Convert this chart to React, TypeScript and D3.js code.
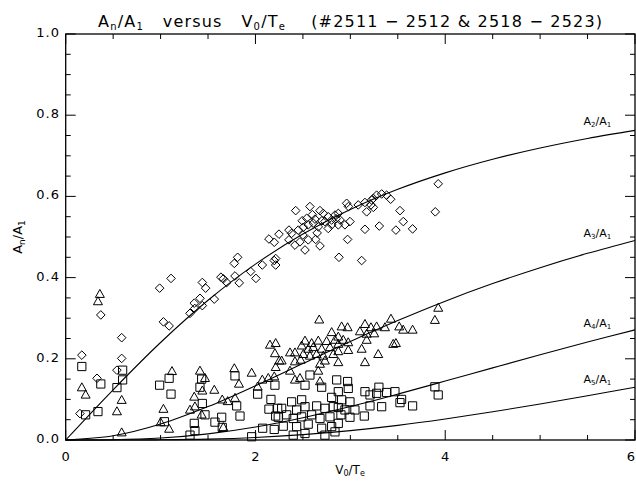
import React from "react";
import * as d3 from "d3";

// ---- Theory curves (sampled values, A_n/A_1) ----
const curveX = [0, 0.5, 1, 1.5, 2, 2.5, 3, 3.5, 4, 4.5, 5, 5.5, 6];
const curveA2 = [0, 0.1237, 0.2402, 0.3441, 0.4331, 0.5072, 0.5679, 0.6175, 0.658, 0.6915, 0.7193, 0.7428, 0.7627];
const curveA3 = [0, 0.0103, 0.0392, 0.0823, 0.1337, 0.1885, 0.2428, 0.2943, 0.342, 0.3853, 0.4245, 0.4598, 0.4915];
const curveA4 = [0, 0.0006, 0.0048, 0.015, 0.0319, 0.0548, 0.0824, 0.113, 0.1451, 0.1777, 0.2099, 0.2412, 0.2712];
const curveA5 = [0, 0.00003, 0.0005, 0.0022, 0.0062, 0.0132, 0.0232, 0.0361, 0.0518, 0.0694, 0.0887, 0.109, 0.1299];
const curveLabels = ["2", "3", "4", "5"];
const curveLabelY = [0.776, 0.5, 0.278, 0.14];
const curveLabelX = 5.75;

// ---- Measured points ----
// A2/A1 (diamonds)
const a2X = [0.17, 0.15, 0.33, 0.37, 0.59, 0.59, 0.54, 0.99, 1.11, 1.03, 1.09, 1.31, 1.36,
  1.355, 1.415, 1.44, 1.566, 1.44, 1.475, 1.636, 1.661, 1.697, 1.784, 1.829, 1.777, 1.812, 1.949, 2.005, 2.072, 2.198, 2.213, 2.213, 2.142, 2.198, 2.248, 2.353, 2.353,
  2.424, 2.574, 2.68, 2.715, 2.54, 2.627, 2.493, 2.381, 2.451, 2.504, 2.556, 2.609, 2.662, 2.732, 2.767, 2.803, 2.838, 2.873, 2.891, 2.767, 2.803, 2.873, 2.943, 2.996, 2.961, 2.98, 3.083, 3.154, 3.172, 3.224, 3.217, 3.154, 2.971, 2.88, 3.119, 2.416, 2.469, 2.522, 2.556, 2.634, 2.68,
  2.6, 2.7, 2.85, 2.5, 2.65,
  3.242, 3.277, 3.33, 3.382, 3.425, 3.242, 3.926, 3.523, 3.895, 3.558, 3.305, 3.48, 3.656];
const a2Y = [0.209, 0.065, 0.152, 0.308, 0.252, 0.201, 0.172, 0.374, 0.398, 0.291, 0.281, 0.312, 0.324,
  0.337, 0.349, 0.331, 0.347, 0.388, 0.374, 0.401, 0.397, 0.388, 0.404, 0.387, 0.435, 0.45, 0.415, 0.398, 0.431, 0.442, 0.431, 0.447, 0.495, 0.487, 0.507, 0.517, 0.493,
  0.565, 0.575, 0.565, 0.558, 0.546, 0.544, 0.54, 0.509, 0.517, 0.524, 0.53, 0.534, 0.525, 0.538, 0.55, 0.542, 0.554, 0.558, 0.542, 0.521, 0.53, 0.53, 0.53, 0.538, 0.583, 0.575, 0.579, 0.585, 0.562, 0.591, 0.579, 0.519, 0.494, 0.45, 0.442, 0.48, 0.488, 0.468, 0.493, 0.494, 0.478,
  0.555, 0.54, 0.545, 0.505, 0.51,
  0.595, 0.603, 0.606, 0.603, 0.593, 0.573, 0.631, 0.565, 0.562, 0.538, 0.527, 0.517, 0.52];

// A3/A1 (triangles)
const a3X = [0.36, 0.34, 0.17, 0.21, 0.54, 0.59, 0.59, 1.03, 1.09, 1.12, 1.0,
  1.415, 1.468, 1.44, 1.355, 1.362, 1.31, 1.566, 1.433, 1.777, 1.96, 1.826, 1.65, 1.707, 1.784, 1.661, 2.023, 2.072, 2.135, 2.198, 2.153, 2.213, 2.205, 2.251, 2.213,
  2.672, 2.803, 2.522, 2.592, 2.662, 2.75, 2.838, 2.487, 2.556, 2.609, 2.698, 2.785, 2.364, 2.416, 2.504, 2.574, 2.645, 2.715, 2.82, 2.276, 2.416, 2.476, 2.68, 2.732, 2.364, 2.662, 2.416, 2.469, 2.68,
  2.908, 2.971, 3.154, 3.217, 3.277, 3.365, 3.428, 3.101, 3.172, 3.252, 2.873, 2.925, 2.978, 2.873, 3.172, 3.452, 2.873, 2.978, 3.119, 3.294, 2.873, 3.154,
  3.515, 3.557, 3.656, 3.48, 3.926, 3.891];
const a3Y = [0.361, 0.343, 0.131, 0.113, 0.072, 0.1, 0.02, 0.078, 0.029, 0.171, 0.045,
  0.172, 0.154, 0.123, 0.108, 0.084, 0.076, 0.125, 0.064, 0.178, 0.167, 0.14, 0.101, 0.097, 0.105, 0.033, 0.133, 0.15, 0.154, 0.158, 0.236, 0.24, 0.215, 0.197, 0.181,
  0.298, 0.267, 0.246, 0.24, 0.246, 0.245, 0.248, 0.234, 0.226, 0.23, 0.226, 0.23, 0.217, 0.217, 0.213, 0.209, 0.213, 0.209, 0.213, 0.197, 0.195, 0.199, 0.189, 0.197, 0.172, 0.172, 0.15, 0.154, 0.146,
  0.281, 0.279, 0.287, 0.279, 0.281, 0.279, 0.3, 0.269, 0.263, 0.264, 0.256, 0.248, 0.242, 0.238, 0.248, 0.238, 0.22, 0.223, 0.226, 0.213, 0.193, 0.193,
  0.281, 0.273, 0.273, 0.24, 0.327, 0.297];

// A4/A1 (squares)
const a4X = [0.17, 0.21, 0.37, 0.34, 0.54, 0.6, 0.6, 0.99, 1.09, 1.11, 1.04,
  1.433, 1.415, 1.44, 1.468, 1.355, 1.362, 1.31, 1.784, 1.802, 1.837, 1.644, 1.573, 1.65, 1.96, 2.023, 2.205, 2.163, 2.142, 2.234, 2.213, 2.24, 2.076, 2.198,
  2.574, 2.522, 2.698, 2.856, 2.381, 2.487, 2.803, 2.276, 2.434, 2.522, 2.645, 2.732, 2.82, 2.329, 2.398, 2.487, 2.592, 2.68, 2.785, 2.293, 2.434, 2.556, 2.698, 2.803, 2.398, 2.522, 2.732, 2.838,
  2.971, 2.978, 2.873, 3.154, 3.301, 3.382, 3.277, 3.207, 2.908, 2.996, 3.207, 3.33, 2.873, 2.943, 3.048, 2.901, 2.996, 3.147, 2.873,
  3.47, 3.54, 3.523, 3.656, 3.891, 3.926];
const a4Y = [0.181, 0.062, 0.138, 0.07, 0.129, 0.148, 0.172, 0.135, 0.152, 0.113, 0.045,
  0.15, 0.13, 0.09, 0.062, 0.041, 0.023, 0.012, 0.158, 0.084, 0.059, 0.056, 0.044, 0.031, 0.008, 0.113, 0.135, 0.1, 0.076, 0.078, 0.059, 0.056, 0.029, 0.026,
  0.16, 0.135, 0.13, 0.148, 0.094, 0.099, 0.105, 0.078, 0.074, 0.082, 0.084, 0.078, 0.082, 0.062, 0.053, 0.057, 0.062, 0.053, 0.057, 0.034, 0.033, 0.039, 0.029, 0.033, 0.012, 0.016, 0.012, 0.02,
  0.144, 0.127, 0.119, 0.119, 0.13, 0.117, 0.115, 0.111, 0.099, 0.094, 0.084, 0.082, 0.08, 0.074, 0.074, 0.062, 0.056, 0.059, 0.041,
  0.119, 0.1, 0.092, 0.084, 0.131, 0.111];

const xTickMajor = [0, 2, 4, 6];
const yTickMajor = [0, 0.2, 0.4, 0.6, 0.8, 1.0];

const W = 636;
const H = 481;
const FONT = "'DejaVu Sans', 'Liberation Sans', sans-serif";

export default function App() {
  const x = d3.scaleLinear().domain([0, 6]).range([65.7, 635]);
  const y = d3.scaleLinear().domain([0, 1]).range([440, 34]);
  const [x0, x1] = x.range();
  const [y0, y1] = y.range();

  const line = d3
    .line<[number, number]>()
    .x((d) => x(d[0]))
    .y((d) => y(d[1]))
    .curve(d3.curveCatmullRom);

  const curves = [curveA2, curveA3, curveA4, curveA5];

  const xMinor = d3.range(0, 6.0001, 0.5);
  const yMinor = d3.range(0, 1.0001, 0.05);

  const diamond = (cx: number, cy: number) => {
    const r = 4.3;
    return `M${cx},${cy - r}L${cx + r},${cy}L${cx},${cy + r}L${cx - r},${cy}Z`;
  };
  const triangle = (cx: number, cy: number) => {
    const w = 4.5, h = 4;
    return `M${cx - w},${cy + h}L${cx},${cy - h}L${cx + w},${cy + h}Z`;
  };
  const square = (cx: number, cy: number) => {
    const r = 4.1;
    return `M${cx - r},${cy - r}H${cx + r}V${cy + r}H${cx - r}Z`;
  };

  return (
    <svg
      width={W}
      height={H}
      style={{ position: "absolute", left: 0, top: 0, background: "#fff" }}
      fontFamily={FONT}
    >
      <rect x={0} y={0} width={W} height={H} fill="#fff" />
      {/* Title */}
      <text
        x={98}
        y={27}
        fontSize={16}
        fill="#000"
        textLength={504}
        lengthAdjust="spacing"
        style={{ whiteSpace: "pre" }}
      >
        A<tspan fontSize={10} dy={3}>n</tspan>
        <tspan dy={-3}>/A</tspan>
        <tspan fontSize={10} dy={3}>1</tspan>
        <tspan dy={-3}>{"   versus   V"}</tspan>
        <tspan fontSize={10} dy={3}>0</tspan>
        <tspan dy={-3}>/T</tspan>
        <tspan fontSize={10} dy={3}>e</tspan>
        <tspan dy={-3}>{"    (#2511 − 2512 & 2518 − 2523)"}</tspan>
      </text>

      {/* Plot frame */}
      <rect x={x0} y={y1} width={x1 - x0} height={y0 - y1} fill="none" stroke="#000" strokeWidth={1.3} />

      {/* X ticks */}
      {xMinor.map((v, i) => {
        const major = xTickMajor.some((m) => Math.abs(m - v) < 1e-6);
        const len = major ? 10 : 5;
        return (
          <g key={"xt" + i}>
            <line x1={x(v)} x2={x(v)} y1={y0} y2={y0 - len} stroke="#000" strokeWidth={1} />
            <line x1={x(v)} x2={x(v)} y1={y1} y2={y1 + len} stroke="#000" strokeWidth={1} />
          </g>
        );
      })}
      {/* Y ticks */}
      {yMinor.map((v, i) => {
        const major = yTickMajor.some((m) => Math.abs(m - v) < 1e-6);
        const len = major ? 10 : 5;
        return (
          <g key={"yt" + i}>
            <line x1={x0} x2={x0 + len} y1={y(v)} y2={y(v)} stroke="#000" strokeWidth={1} />
            <line x1={x1} x2={x1 - len} y1={y(v)} y2={y(v)} stroke="#000" strokeWidth={1} />
          </g>
        );
      })}

      {/* X tick labels */}
      {xTickMajor.map((v) => (
        <text key={"xl" + v} x={Math.min(x(v), 631)} y={461} fontSize={13} textAnchor="middle" fill="#000">
          {d3.format("d")(v)}
        </text>
      ))}
      {/* Y tick labels */}
      {yTickMajor.map((v) => (
        <text key={"yl" + v} x={60} y={y(v) + 3} fontSize={13} textAnchor="end" fill="#000" letterSpacing={1}>
          {d3.format(".1f")(v)}
        </text>
      ))}

      {/* Axis titles */}
      <text x={350} y={474} fontSize={12} textAnchor="middle" fill="#000">
        V<tspan fontSize={8} dy={2}>0</tspan>
        <tspan dy={-2}>/T</tspan>
        <tspan fontSize={8} dy={2}>e</tspan>
      </text>
      <text transform={`translate(22, ${(y0 + y1) / 2}) rotate(-90)`} fontSize={13} textAnchor="middle" fill="#000">
        A<tspan fontSize={9} dy={3}>n</tspan>
        <tspan dy={-3}>/A</tspan>
        <tspan fontSize={9} dy={3}>1</tspan>
      </text>

      {/* Curves */}
      {curves.map((c, i) => (
        <path
          key={"c" + i}
          d={line(curveX.map((xv, j) => [xv, c[j]] as [number, number])) || ""}
          fill="none"
          stroke="#000"
          strokeWidth={1.1}
        />
      ))}
      {curveLabels.map((n, i) => (
        <text key={"cl" + i} x={x(curveLabelX)} y={y(curveLabelY[i])} fontSize={11} textAnchor="end" fill="#000">
          A<tspan fontSize={7} dy={2}>{n}</tspan>
          <tspan dy={-2}>/A</tspan>
          <tspan fontSize={7} dy={2}>1</tspan>
        </text>
      ))}

      {/* Points */}
      <g fill="none" stroke="#000" strokeWidth={1}>
        {a2X.map((v, i) => (
          <path key={"d" + i} d={diamond(x(v), y(a2Y[i]))} />
        ))}
        {a3X.map((v, i) => (
          <path key={"t" + i} d={triangle(x(v), y(a3Y[i]))} />
        ))}
        {a4X.map((v, i) => (
          <path key={"s" + i} d={square(x(v), y(a4Y[i]))} />
        ))}
      </g>
    </svg>
  );
}
